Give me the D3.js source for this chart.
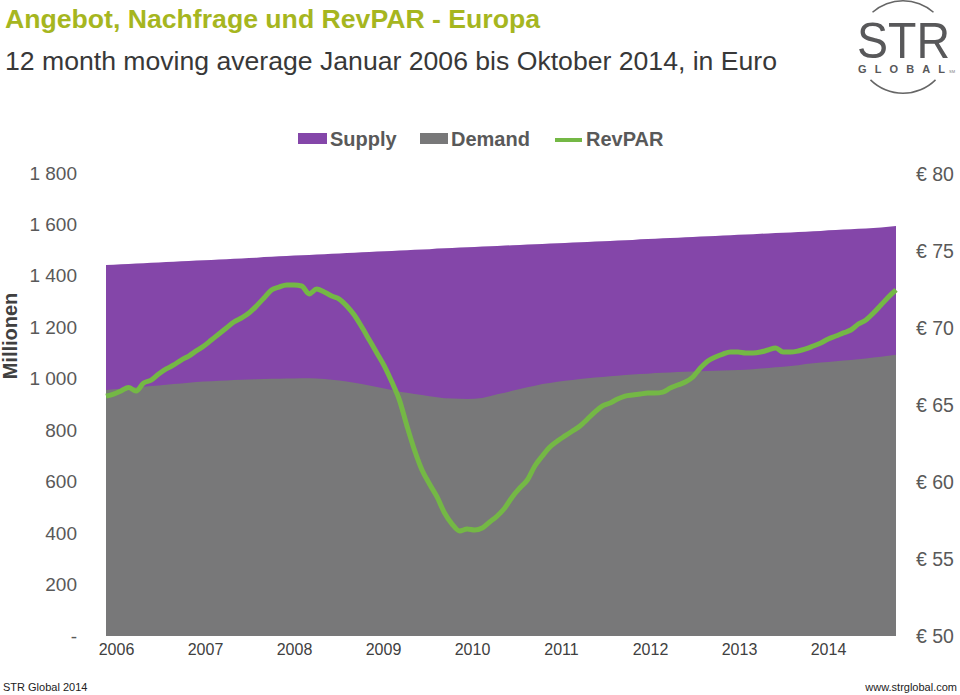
<!DOCTYPE html>
<html>
<head>
<meta charset="utf-8">
<script src="https://cdn.jsdelivr.net/npm/d3@7"></script>
<style>
  body { margin: 0; background: #fff; }
  svg { display: block; font-family: "Liberation Sans", Arial, sans-serif; }
</style>
</head>
<body>
<script>
// years shown on the axis
var years = ["2006", "2007", "2008", "2009", "2010", "2011", "2012", "2013", "2014"];

// left axis ticks (millions of room nights) and right axis (euro)
var leftTicks = [0, 200, 400, 600, 800, 1000, 1200, 1400, 1600, 1800];
var rightTicks = [50, 55, 60, 65, 70, 75, 80];

// monthly values Jan 2006 .. Oct 2014 (12 month moving average)
var supply = [
  1442, 1443, 1445, 1446, 1448, 1449, 1451, 1452, 1454, 1455, 1457, 1458,
  1460, 1461, 1462, 1464, 1465, 1467, 1468, 1470, 1471, 1473, 1474, 1476,
  1477, 1479, 1480, 1481, 1483, 1484, 1486, 1487, 1489, 1490, 1492, 1493,
  1495, 1496, 1497, 1499, 1500, 1502, 1503, 1504, 1506, 1507, 1508, 1510,
  1511, 1512, 1514, 1515, 1516, 1518, 1519, 1520, 1522, 1523, 1524, 1526,
  1527, 1528, 1530, 1531, 1532, 1534, 1535, 1536, 1538, 1539, 1540, 1542,
  1543, 1544, 1546, 1547, 1548, 1550, 1551, 1553, 1554, 1555, 1557, 1558,
  1560, 1561, 1562, 1564, 1565, 1567, 1568, 1569, 1571, 1572, 1574, 1575,
  1577, 1578, 1580, 1581, 1583, 1584, 1586, 1588, 1591, 1594
];

var demand = [
  956, 959, 961, 964, 967, 969, 972, 974, 977, 980, 982, 985,
  987, 989, 990, 992, 993, 995, 996, 997, 998, 999, 1000, 1000,
  1001, 1001, 1002, 1002, 1001, 999, 996, 993, 989, 985, 980, 974,
  968, 962, 956, 950, 946, 941, 937, 932, 928, 924, 923, 922,
  921, 922, 925, 932, 940, 946, 953, 960, 967, 973, 980, 984,
  988, 992, 995, 999, 1002, 1005, 1007, 1010, 1012, 1015, 1017, 1019,
  1020, 1022, 1023, 1024, 1026, 1027, 1028, 1029, 1030, 1031, 1032, 1033,
  1034, 1035, 1037, 1040, 1042, 1045, 1047, 1050, 1053, 1057, 1060, 1063,
  1065, 1068, 1071, 1073, 1076, 1079, 1083, 1086, 1090, 1093
];

var revpar = [
  65.58, 65.71, 65.91, 66.14, 65.91, 66.43, 66.62, 67.01, 67.34, 67.60, 67.92, 68.18,
  68.51, 68.83, 69.22, 69.61, 70.00, 70.39, 70.65, 70.97, 71.43, 71.95, 72.47, 72.66,
  72.79, 72.79, 72.73, 72.21, 72.53, 72.34, 72.08, 71.88, 71.43, 70.84, 70.06, 69.22,
  68.38, 67.53, 66.49, 65.32, 63.64, 62.08, 60.78, 59.87, 59.03, 57.99, 57.27, 56.82,
  56.95, 56.88, 57.01, 57.40, 57.79, 58.31, 59.03, 59.61, 60.13, 61.04, 61.69, 62.27,
  62.66, 62.99, 63.31, 63.64, 64.09, 64.55, 64.94, 65.13, 65.39, 65.58, 65.65, 65.71,
  65.78, 65.78, 65.84, 66.10, 66.30, 66.49, 66.82, 67.40, 67.86, 68.12, 68.31, 68.44,
  68.44, 68.38, 68.38, 68.44, 68.57, 68.70, 68.44, 68.44, 68.51, 68.64, 68.83, 69.03,
  69.29, 69.48, 69.68, 69.87, 70.26, 70.52, 70.97, 71.49, 72.01, 72.47
];

var width = 960,
    height = 695;

var purple = "#8446a9",
    grey = "#787879",
    green = "#74b845",
    textCol = "#595959";

var svg = d3.select("body").append("svg")
    .attr("width", width)
    .attr("height", height);

// scales
var x = d3.scaleLinear().domain([0, supply.length - 1]).range([106, 896]);
var yLeft = d3.scaleLinear().domain([0, 1800]).range([636, 173]);
var yRight = d3.scaleLinear().domain([50, 80]).range([636, 174]);
var xYear = d3.scalePoint().domain(years).range([116, 828]);

// title + subtitle
svg.append("text")
    .attr("x", 5).attr("y", 28)
    .attr("fill", "#a6b61f")
    .style("font-size", "25px").style("font-weight", "bold")
    .attr("textLength", 535).attr("lengthAdjust", "spacingAndGlyphs")
    .text("Angebot, Nachfrage und RevPAR - Europa");

svg.append("text")
    .attr("x", 5).attr("y", 70)
    .attr("fill", "#383838")
    .style("font-size", "25px")
    .attr("textLength", 772).attr("lengthAdjust", "spacingAndGlyphs")
    .text("12 month moving average Januar 2006 bis Oktober 2014, in Euro");

// logo
var logo = svg.append("g").attr("transform", "translate(903,47)");
var ring = d3.arc().innerRadius(45.5).outerRadius(47);
logo.append("path").attr("d", ring({startAngle: -0.72, endAngle: 0.72})).attr("fill", "#666");
logo.append("path").attr("d", ring({startAngle: Math.PI - 0.78, endAngle: Math.PI + 0.78})).attr("fill", "#666");
logo.append("text")
    .attr("x", -46).attr("y", 11)
    .attr("fill", "#58585a")
    .style("font-size", "50px")
    .attr("textLength", 93).attr("lengthAdjust", "spacingAndGlyphs")
    .text("STR");
logo.append("text")
    .attr("x", -45).attr("y", 26)
    .attr("fill", "#58585a")
    .style("font-size", "11px").style("font-weight", "bold")
    .attr("textLength", 87).attr("lengthAdjust", "spacing")
    .text("GLOBAL");
logo.append("text")
    .attr("x", 46).attr("y", 26)
    .attr("fill", "#777")
    .style("font-size", "4px")
    .text("SM");

// areas
var supplyArea = d3.area()
    .x(function(d, i) { return x(i); })
    .y0(yLeft(0))
    .y1(function(d) { return yLeft(d); });

svg.append("path")
    .datum(supply)
    .attr("fill", purple)
    .attr("d", supplyArea);

svg.append("path")
    .datum(demand)
    .attr("fill", grey)
    .attr("d", supplyArea);

// RevPAR line
var line = d3.line()
    .x(function(d, i) { return x(i); })
    .y(function(d) { return yRight(d); })
    .curve(d3.curveMonotoneX);

svg.append("path")
    .datum(revpar)
    .attr("fill", "none")
    .attr("stroke", green)
    .attr("stroke-width", 5)
    .attr("stroke-linejoin", "round")
    .attr("d", line);

// left axis
var left = svg.append("g")
    .attr("transform", "translate(77,0)")
    .call(d3.axisLeft(yLeft).tickValues(leftTicks).tickSize(0).tickPadding(0)
      .tickFormat(function(d) {
        if (d === 0) return "-";
        return d3.format(",")(d).replace(",", " ");
      }));
left.select(".domain").remove();
left.selectAll("text")
    .attr("fill", textCol)
    .style("font-size", "19px")
    .style("font-family", "Liberation Sans, Arial, sans-serif");

// right axis
var right = svg.append("g")
    .attr("transform", "translate(916,0)")
    .call(d3.axisRight(yRight).tickValues(rightTicks).tickSize(0).tickPadding(0)
      .tickFormat(function(d) { return "€ " + d; }));
right.select(".domain").remove();
right.selectAll("text")
    .attr("fill", textCol)
    .style("font-size", "19.5px")
    .style("font-family", "Liberation Sans, Arial, sans-serif");

// bottom axis (years)
var bottom = svg.append("g")
    .attr("transform", "translate(0,644)")
    .call(d3.axisBottom(xYear).tickSize(0).tickPadding(0));
bottom.select(".domain").remove();
bottom.selectAll("text")
    .attr("fill", "#404040")
    .style("font-size", "16px")
    .style("font-family", "Liberation Sans, Arial, sans-serif");

// y label
svg.append("text")
    .attr("transform", "translate(17,336) rotate(-90)")
    .attr("text-anchor", "middle")
    .attr("fill", "#404040")
    .style("font-size", "20px").style("font-weight", "bold")
    .text("Millionen");

// legend
var legend = svg.append("g").style("font-size", "20px").style("font-weight", "bold").attr("fill", textCol);
legend.append("rect").attr("x", 298).attr("y", 133).attr("width", 29).attr("height", 11).attr("fill", purple);
legend.append("text").attr("x", 330).attr("y", 146).text("Supply");
legend.append("rect").attr("x", 420).attr("y", 133).attr("width", 28).attr("height", 11).attr("fill", grey);
legend.append("text").attr("x", 451).attr("y", 146).text("Demand");
legend.append("line").attr("x1", 555).attr("x2", 582).attr("y1", 140).attr("y2", 140)
    .attr("stroke", green).attr("stroke-width", 4);
legend.append("text").attr("x", 586).attr("y", 146).text("RevPAR");

// footer
svg.append("text")
    .attr("x", 3).attr("y", 691)
    .attr("fill", "#222")
    .style("font-size", "11px")
    .text("STR Global 2014");
svg.append("text")
    .attr("x", 957).attr("y", 691)
    .attr("text-anchor", "end")
    .attr("fill", "#222")
    .style("font-size", "11px")
    .text("www.strglobal.com");
</script>
</body>
</html>
